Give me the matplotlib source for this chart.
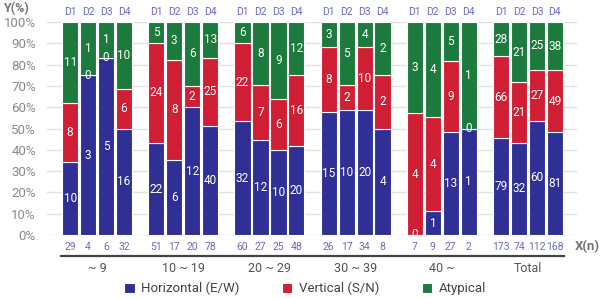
import numpy as np
import matplotlib.pyplot as plt

plt.rcParams['font.family'] = ['Roboto', 'DejaVu Sans']

groups = ['~ 9', '10 ~ 19', '20 ~ 29', '30 ~ 39', '40 ~', 'Total']
sub_labels = ['D1', 'D2', 'D3', 'D4']

# counts per group, D1..D4
horizontal = [[10, 3, 5, 16], [22, 6, 12, 40], [32, 12, 10, 20],
              [15, 10, 20, 4], [0, 1, 13, 1], [79, 32, 60, 81]]
vertical = [[8, 0, 0, 6], [24, 8, 2, 25], [22, 7, 6, 16],
            [8, 2, 10, 2], [4, 4, 9, 0], [66, 21, 27, 49]]
atypical = [[11, 1, 1, 10], [5, 3, 6, 13], [6, 8, 9, 12],
            [3, 5, 4, 2], [3, 4, 5, 1], [28, 21, 25, 38]]

series = [('Horizontal (E/W)', horizontal, '#2f2f96'),
          ('Vertical (S/N)', vertical, '#d01f35'),
          ('Atypical', atypical, '#1b7a3c')]

H = np.array(horizontal, dtype=float).ravel()
V = np.array(vertical, dtype=float).ravel()
A = np.array(atypical, dtype=float).ravel()
n = H + V + A

x = np.array([g * 4.8 + i for g in range(len(groups)) for i in range(4)])
width = 0.9

fig = plt.figure(figsize=(6.04, 2.99), dpi=100)
ax = fig.add_axes([47 / 604, 1 - 235 / 299, 530 / 604, 213 / 299])

bottom = np.zeros_like(n)
for name, vals, color in series:
    v = np.array(vals, dtype=float).ravel()
    pct = v / n * 100
    ax.bar(x, pct, width, bottom=bottom, color=color, edgecolor='white',
           linewidth=0.8, label=name, zorder=2)
    for xi, b, p, c in zip(x, bottom, pct, v):
        ax.text(xi, b + p / 2, f'{int(c)}', color='white', ha='center',
                va='center', fontsize=8.5, zorder=3)
    bottom = bottom + pct

ax.set_xlim(-1.29, x[-1] + 1.23)
ax.set_ylim(0, 100)
ax.set_yticks(range(0, 101, 10))
ax.set_yticklabels([f'{t}%' for t in range(0, 101, 10)], color='#8a8a8a',
                   fontsize=9.5)
ax.yaxis.grid(True, color='#e2e2e2', linewidth=1, zorder=0)
ax.set_xticks([])
ax.tick_params(axis='y', length=0, pad=8)
for s in ax.spines.values():
    s.set_visible(False)

lab_col = '#6a6ac8'
for xi, k, cnt in zip(x, range(len(x)), n):
    ax.text(xi, 102.5, sub_labels[k % 4], color=lab_col, ha='center',
            va='bottom', fontsize=7.5)
    ax.text(xi, -3.5, f'{int(cnt)}', color=lab_col, ha='center',
            va='top', fontsize=7.5)

ax.plot([x[0] - 0.5, x[-1] + 0.5], [-10, -10], color='#444444',
        linewidth=1.6, clip_on=False)
for g, name in enumerate(groups):
    ax.text(g * 4.8 + 1.5, -12.5, name, color='#555555', ha='center',
            va='top', fontsize=9)

ax.text(x[-1] + 1.1, -5.5, 'X(n)', color='#777777', ha='left', va='center',
        fontsize=9.5, fontweight='bold')
fig.text(0.005, 0.993, 'Y(%)', color='#777777', ha='left', va='top',
         fontsize=9, fontweight='bold')

handles, labels = ax.get_legend_handles_labels()
fig.legend(handles, labels, loc='center', bbox_to_anchor=(0.505, 0.035),
           ncol=3, frameon=False, fontsize=9.5, handlelength=0.8,
           handleheight=0.8, columnspacing=3.2, handletextpad=0.5,
           labelcolor='#444444')

fig.savefig('out.png', dpi=100)
